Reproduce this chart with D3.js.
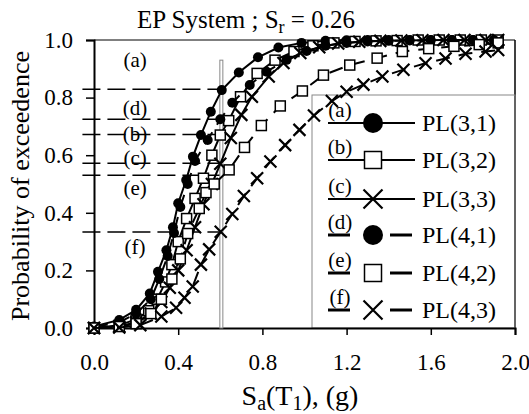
<!DOCTYPE html>
<html>
<head>
<meta charset="utf-8">
<script src="https://cdn.jsdelivr.net/npm/d3@7"></script>
<style>
  body { margin: 0; background: #fff; }
</style>
</head>
<body>
<svg id="chart"></svg>
<script>
// data
const sa31 = [0, 0.12, 0.2, 0.265, 0.304, 0.344, 0.375, 0.4, 0.438, 0.47, 0.508, 0.555, 0.607, 0.688, 0.779, 0.876, 0.986, 1.1, 1.2, 1.3, 1.4, 1.5, 1.6, 1.7, 1.8, 1.9];
const p31  = [0.005, 0.028, 0.063, 0.12, 0.195, 0.27, 0.35, 0.433, 0.514, 0.595, 0.67, 0.751, 0.826, 0.887, 0.94, 0.974, 0.99, 0.997, 0.999, 1, 1, 1, 1, 1, 1, 1];

const sa32 = [0, 0.12, 0.2, 0.26, 0.3, 0.34, 0.37, 0.4, 0.44, 0.48, 0.52, 0.56, 0.6, 0.64, 0.696, 0.775, 0.86, 0.95, 1.04, 1.14, 1.24, 1.34, 1.44, 1.54, 1.64, 1.74, 1.84, 1.92];
const p32  = [0, 0.01, 0.03, 0.06, 0.1, 0.16, 0.22, 0.3, 0.38, 0.45, 0.52, 0.6, 0.67, 0.72, 0.803, 0.884, 0.93, 0.96, 0.98, 0.99, 0.995, 0.997, 0.998, 1, 1, 1, 1, 1];

const sa33 = [0, 0.12, 0.2, 0.27, 0.32, 0.36, 0.4, 0.44, 0.48, 0.52, 0.56, 0.6, 0.65, 0.7, 0.75, 0.83, 0.9, 0.98, 1.07, 1.16, 1.26, 1.36, 1.46, 1.56, 1.66, 1.76, 1.86, 1.92];
const p33  = [0, 0.005, 0.02, 0.05, 0.09, 0.14, 0.2, 0.27, 0.35, 0.43, 0.5, 0.57, 0.66, 0.74, 0.803, 0.873, 0.92, 0.955, 0.975, 0.988, 0.994, 0.997, 0.998, 0.999, 1, 1, 1, 1];

const sa41 = [0, 0.12, 0.2, 0.27, 0.31, 0.35, 0.38, 0.41, 0.445, 0.48, 0.54, 0.6, 0.657, 0.74, 0.82, 0.915, 1.01, 1.1, 1.2, 1.3, 1.4, 1.5, 1.6, 1.7, 1.8, 1.9];
const p41  = [0.003, 0.02, 0.05, 0.1, 0.17, 0.25, 0.33, 0.42, 0.5, 0.58, 0.653, 0.725, 0.782, 0.844, 0.89, 0.931, 0.962, 0.98, 0.99, 0.995, 0.997, 0.998, 0.999, 1, 1, 1];

const sa42 = [0, 0.12, 0.2, 0.27, 0.32, 0.37, 0.41, 0.445, 0.5, 0.532, 0.571, 0.642, 0.715, 0.795, 0.885, 0.99, 1.09, 1.215, 1.345, 1.465, 1.59, 1.71, 1.83, 1.92];
const p42  = [0, 0.005, 0.015, 0.05, 0.1, 0.17, 0.24, 0.328, 0.415, 0.47, 0.5, 0.549, 0.627, 0.703, 0.771, 0.823, 0.878, 0.913, 0.937, 0.96, 0.97, 0.978, 0.984, 0.99];

const sa43 = [0, 0.12, 0.22, 0.32, 0.39, 0.43, 0.469, 0.508, 0.547, 0.602, 0.657, 0.712, 0.775, 0.838, 0.908, 0.976, 1.045, 1.13, 1.2, 1.28, 1.37, 1.47, 1.575, 1.67, 1.765, 1.86, 1.92];
const p43  = [0, 0.002, 0.01, 0.04, 0.07, 0.105, 0.144, 0.22, 0.273, 0.334, 0.396, 0.458, 0.52, 0.578, 0.635, 0.688, 0.738, 0.788, 0.82, 0.845, 0.873, 0.897, 0.919, 0.936, 0.952, 0.96, 0.965];

const seriesNames = ["PL(3,1)", "PL(3,2)", "PL(3,3)", "PL(4,1)", "PL(4,2)", "PL(4,3)"];
const legendTags  = ["(a)", "(b)", "(c)", "(d)", "(e)", "(f)"];

// reference levels at Sa = 0.605
const refSa = 0.605;
const refTags   = ["(a)", "(d)", "(b)", "(c)", "(e)", "(f)"];
const refLevels = [0.829, 0.725, 0.672, 0.572, 0.53, 0.333];
const refTagP   = [0.93, 0.764, 0.672, 0.59, 0.486, 0.281];

const xTicks = [0, 0.4, 0.8, 1.2, 1.6, 2.0];
const yTicks = [0, 0.2, 0.4, 0.6, 0.8, 1.0];

const W = 529, H = 414;
let margin = { left: 94, right: 515, top: 40, bottom: 328 };
const serif = '"Liberation Serif"';

const svg = d3.select("#chart").attr("width", W).attr("height", H);

const x = d3.scaleLinear().domain([0, 2]).range([margin.left, margin.right]);
const y = d3.scaleLinear().domain([0, 1]).range([margin.bottom, margin.top]);

// frame top / right
svg.append("line").attr("x1", margin.left).attr("x2", margin.right).attr("y1", margin.top).attr("y2", margin.top)
  .attr("stroke", "#000").attr("stroke-width", 1);
svg.append("line").attr("x1", margin.right).attr("x2", margin.right).attr("y1", margin.top).attr("y2", margin.bottom)
  .attr("stroke", "#000").attr("stroke-width", 1.5);

// legend box (drawn under the curves)
svg.append("rect")
  .attr("x", 312).attr("y", 95).attr("width", margin.right - 312).attr("height", margin.bottom - 95)
  .attr("fill", "none").attr("stroke", "#888").attr("stroke-width", 1);

// axes
const xAxis = svg.append("g").attr("transform", `translate(0,${margin.bottom})`)
  .call(d3.axisBottom(x).tickValues(xTicks).tickFormat(d3.format(".1f")).tickSize(7).tickPadding(19));
const yAxis = svg.append("g").attr("transform", `translate(${margin.left},0)`)
  .call(d3.axisLeft(y).tickValues(yTicks).tickFormat(d3.format(".1f")).tickSize(8).tickPadding(13));

[xAxis, yAxis].forEach(a => {
  a.select(".domain").attr("stroke-width", 2);
  a.selectAll(".tick line").attr("stroke-width", 1.5);
  a.selectAll("text").style("font-family", serif).style("font-size", "23px").attr("fill", "#000");
});

// reference dashed lines and tags
refLevels.forEach((lv, i) => {
  svg.append("line")
    .attr("x1", x(-0.055)).attr("x2", x(refSa)).attr("y1", y(lv)).attr("y2", y(lv))
    .attr("stroke", "#000").attr("stroke-width", 1.5).attr("stroke-dasharray", "18,7");
  svg.append("text")
    .attr("x", x(0.195)).attr("y", y(refTagP[i]))
    .attr("text-anchor", "middle").attr("dominant-baseline", "central")
    .style("font-family", serif).style("font-size", "21px").text(refTags[i]);
});

// vertical marker line
svg.append("rect")
  .attr("x", x(refSa) - 1.5).attr("y", y(0.93)).attr("width", 3).attr("height", margin.bottom - y(0.93))
  .attr("fill", "#fff").attr("stroke", "#888").attr("stroke-width", 1);

const series = [
  { sa: sa31, p: p31, mark: "circle", dash: null },
  { sa: sa32, p: p32, mark: "square", dash: null },
  { sa: sa33, p: p33, mark: "cross", dash: null },
  { sa: sa41, p: p41, mark: "circle", dash: "14,9" },
  { sa: sa42, p: p42, mark: "square", dash: "14,9" },
  { sa: sa43, p: p43, mark: "cross", dash: "14,9" }
];

function drawMark(g, type, cx, cy, s) {
  if (type === "circle") {
    g.append("circle").attr("cx", cx).attr("cy", cy).attr("r", s * 0.5).attr("fill", "#000");
  } else if (type === "square") {
    g.append("rect").attr("x", cx - s / 2).attr("y", cy - s / 2).attr("width", s).attr("height", s)
      .attr("fill", "#fff").attr("stroke", "#000").attr("stroke-width", 1.5);
  } else {
    const h = s * 0.5;
    g.append("path").attr("d", `M${cx - h},${cy - h}L${cx + h},${cy + h}M${cx - h},${cy + h}L${cx + h},${cy - h}`)
      .attr("stroke", "#000").attr("stroke-width", 2.2).attr("fill", "none");
  }
}

const line = d3.line().x(d => x(d[0])).y(d => y(d[1]));
const plot = svg.append("g");

series.forEach(s => {
  const pts = s.sa.map((v, i) => [v, s.p[i]]);
  plot.append("path").datum(pts).attr("d", line)
    .attr("fill", "none").attr("stroke", "#000").attr("stroke-width", 2)
    .attr("stroke-dasharray", s.dash);
  const mg = plot.append("g");
  pts.forEach(d => drawMark(mg, s.mark, x(d[0]), y(d[1]), s.mark === "circle" ? 10 : (s.mark === "square" ? 10 : 12)));
});

// legend
const legRows = [123, 160, 199, 235, 273, 310];
series.forEach((s, i) => {
  const ly = legRows[i];
  const g = svg.append("g");
  if (s.dash) {
    g.append("line").attr("x1", 328).attr("x2", 350).attr("y1", ly).attr("y2", ly).attr("stroke", "#000").attr("stroke-width", 3);
    g.append("line").attr("x1", 390).attr("x2", 412).attr("y1", ly).attr("y2", ly).attr("stroke", "#000").attr("stroke-width", 3);
  } else {
    g.append("line").attr("x1", 328).attr("x2", 415).attr("y1", ly).attr("y2", ly).attr("stroke", "#000").attr("stroke-width", 2);
  }
  drawMark(g, s.mark, 373, ly, s.mark === "circle" ? 20 : (s.mark === "square" ? 17 : 19));
  g.append("text").attr("x", 340).attr("y", ly - 6).attr("text-anchor", "middle")
    .style("font-family", serif).style("font-size", "21px").text(legendTags[i]);
  g.append("text").attr("x", 422).attr("y", ly + 8)
    .style("font-family", serif).style("font-size", "24px").text(seriesNames[i]);
});

// title
const title = svg.append("text").attr("x", 246).attr("y", 28).attr("text-anchor", "middle")
  .style("font-family", serif).style("font-size", "25px");
title.append("tspan").text("EP System ; S");
title.append("tspan").style("font-size", "18px").attr("dy", 5).text("r");
title.append("tspan").attr("dy", -5).text(" = 0.26");

// axis titles
const xt = svg.append("text").attr("x", 300).attr("y", 405).attr("text-anchor", "middle")
  .style("font-family", serif).style("font-size", "28px");
xt.append("tspan").text("S");
xt.append("tspan").style("font-size", "20px").attr("dy", 5).text("a");
xt.append("tspan").attr("dy", -5).text("(T");
xt.append("tspan").style("font-size", "20px").attr("dy", 5).text("1");
xt.append("tspan").attr("dy", -5).text("), (g)");

svg.append("text").attr("transform", "translate(29,186) rotate(-90)")
  .attr("text-anchor", "middle").style("font-family", serif).style("font-size", "26px")
  .text("Probability of exceedence");
</script>
</body>
</html>
